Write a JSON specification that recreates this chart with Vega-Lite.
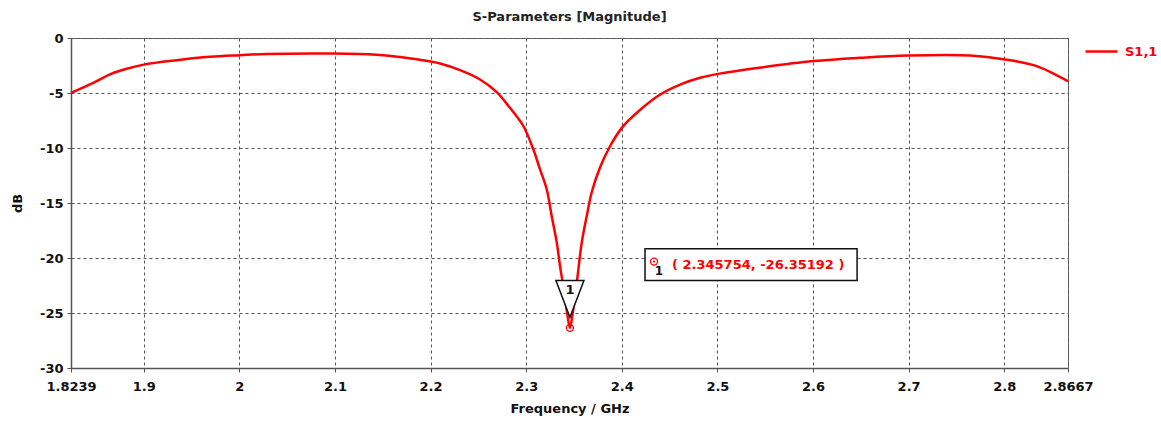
{
  "$schema": "https://vega.github.io/schema/vega-lite/v6.json",
  "autosize": "none",
  "width": 997,
  "height": 330,
  "padding": {"left": 71, "top": 38, "right": 93, "bottom": 53},
  "background": "white",
  "title": {"text": "S-Parameters [Magnitude]", "font": "DejaVu Sans", "fontSize": 13, "fontWeight": "bold", "color": "#222", "anchor": "middle", "offset": 8},
  "config": {
    "view": {"stroke": "#666", "strokeWidth": 1},
    "axis": {
      "labelFont": "DejaVu Sans", "labelFontSize": 13, "labelFontWeight": "bold", "labelColor": "#111",
      "titleFont": "DejaVu Sans", "titleFontSize": 13, "titleFontWeight": "bold", "titleColor": "#111",
      "domainColor": "#555", "domainWidth": 1.5, "tickColor": "#555", "tickSize": 4,
      "gridColor": "#555", "gridDash": [3, 3], "gridWidth": 1, "gridOpacity": 1
    }
  },
  "datasets": {
    "s11": [
      {"f": 1.8239, "db": -4.98, "s": "S1,1"},
      {"f": 1.8472, "db": -4.07, "s": "S1,1"},
      {"f": 1.8647, "db": -3.30, "s": "S1,1"},
      {"f": 1.8822, "db": -2.80, "s": "S1,1"},
      {"f": 1.9000, "db": -2.42, "s": "S1,1"},
      {"f": 1.9345, "db": -2.02, "s": "S1,1"},
      {"f": 1.9693, "db": -1.71, "s": "S1,1"},
      {"f": 2.0007, "db": -1.56, "s": "S1,1"},
      {"f": 2.0286, "db": -1.45, "s": "S1,1"},
      {"f": 2.0980, "db": -1.41, "s": "S1,1"},
      {"f": 2.1437, "db": -1.53, "s": "S1,1"},
      {"f": 2.1700, "db": -1.75, "s": "S1,1"},
      {"f": 2.2000, "db": -2.14, "s": "S1,1"},
      {"f": 2.2099, "db": -2.32, "s": "S1,1"},
      {"f": 2.2308, "db": -2.92, "s": "S1,1"},
      {"f": 2.2517, "db": -3.77, "s": "S1,1"},
      {"f": 2.2692, "db": -4.92, "s": "S1,1"},
      {"f": 2.2830, "db": -6.35, "s": "S1,1"},
      {"f": 2.2970, "db": -8.00, "s": "S1,1"},
      {"f": 2.3075, "db": -10.14, "s": "S1,1"},
      {"f": 2.3145, "db": -11.95, "s": "S1,1"},
      {"f": 2.3215, "db": -13.77, "s": "S1,1"},
      {"f": 2.3267, "db": -16.20, "s": "S1,1"},
      {"f": 2.3320, "db": -18.60, "s": "S1,1"},
      {"f": 2.3354, "db": -20.75, "s": "S1,1"},
      {"f": 2.3382, "db": -22.25, "s": "S1,1"},
      {"f": 2.3425, "db": -24.80, "s": "S1,1"},
      {"f": 2.345754, "db": -26.35192, "s": "S1,1"},
      {"f": 2.3490, "db": -24.80, "s": "S1,1"},
      {"f": 2.3529, "db": -22.25, "s": "S1,1"},
      {"f": 2.3581, "db": -18.60, "s": "S1,1"},
      {"f": 2.3633, "db": -16.20, "s": "S1,1"},
      {"f": 2.3686, "db": -14.00, "s": "S1,1"},
      {"f": 2.3773, "db": -11.75, "s": "S1,1"},
      {"f": 2.3877, "db": -9.84, "s": "S1,1"},
      {"f": 2.4000, "db": -8.17, "s": "S1,1"},
      {"f": 2.4157, "db": -6.80, "s": "S1,1"},
      {"f": 2.4401, "db": -5.14, "s": "S1,1"},
      {"f": 2.4610, "db": -4.23, "s": "S1,1"},
      {"f": 2.4819, "db": -3.62, "s": "S1,1"},
      {"f": 2.5004, "db": -3.26, "s": "S1,1"},
      {"f": 2.5480, "db": -2.65, "s": "S1,1"},
      {"f": 2.6004, "db": -2.10, "s": "S1,1"},
      {"f": 2.6492, "db": -1.80, "s": "S1,1"},
      {"f": 2.7002, "db": -1.59, "s": "S1,1"},
      {"f": 2.7643, "db": -1.59, "s": "S1,1"},
      {"f": 2.8009, "db": -1.95, "s": "S1,1"},
      {"f": 2.8340, "db": -2.56, "s": "S1,1"},
      {"f": 2.8667, "db": -3.93, "s": "S1,1"}
    ],
    "marker": [
      {"f": 2.345754, "db": -26.35192, "id": "1", "label": "( 2.345754, -26.35192 )"}
    ],
    "box": [
      {"fa": 2.4243, "fb": 2.6461, "top": -19.15, "bottom": -22.05, "mid": -20.6, "id": "1", "label": "( 2.345754, -26.35192 )"}
    ]
  },
  "layer": [
    {
      "data": {"name": "s11"},
      "mark": {"type": "line", "strokeWidth": 2.5, "interpolate": "catmull-rom"},
      "encoding": {
        "x": {"field": "f", "type": "quantitative", "scale": {"domain": [1.8239, 2.8667], "nice": false, "zero": false},
          "axis": {"title": "Frequency / GHz", "values": [1.8239, 1.9, 2, 2.1, 2.2, 2.3, 2.4, 2.5, 2.6, 2.7, 2.8, 2.8667], "labelExpr": "datum.value + ''", "labelPadding": 8, "titlePadding": 9, "labelFlush": false, "labelOverlap": false}},
        "y": {"field": "db", "type": "quantitative", "scale": {"domain": [-30, 0], "nice": false, "zero": false},
          "axis": {"title": "dB", "values": [-30, -25, -20, -15, -10, -5, 0], "labelExpr": "datum.value + ''", "labelPadding": 4, "titlePadding": 15}},
        "color": {"field": "s", "type": "nominal", "scale": {"range": ["#ff0000"]},
          "legend": {"title": null, "orient": "none", "legendX": 1013, "legendY": -4, "symbolType": "stroke", "symbolSize": 1024, "symbolStrokeWidth": 2.5, "labelFont": "DejaVu Sans", "labelFontSize": 13, "labelFontWeight": "bold", "labelColor": "#ff0000", "labelOffset": 6}}
      }
    },
    {
      "data": {"name": "box"},
      "mark": {"type": "rect", "fill": "white", "stroke": "#111", "strokeWidth": 1.5},
      "encoding": {
        "x": {"field": "fa", "type": "quantitative"},
        "x2": {"field": "fb"},
        "y": {"field": "top", "type": "quantitative"},
        "y2": {"field": "bottom"}
      }
    },
    {
      "data": {"name": "box"},
      "mark": {"type": "point", "shape": "circle", "size": 50, "stroke": "#ff0000", "strokeWidth": 1.3, "filled": false, "xOffset": 9, "yOffset": -3, "opacity": 1},
      "encoding": {
        "x": {"field": "fa", "type": "quantitative"},
        "y": {"field": "mid", "type": "quantitative"}
      }
    },
    {
      "data": {"name": "box"},
      "mark": {"type": "point", "shape": "circle", "size": 5, "fill": "#ff0000", "filled": true, "xOffset": 9, "yOffset": -3, "opacity": 1},
      "encoding": {
        "x": {"field": "fa", "type": "quantitative"},
        "y": {"field": "mid", "type": "quantitative"}
      }
    },
    {
      "data": {"name": "box"},
      "mark": {"type": "text", "font": "DejaVu Sans", "fontSize": 12, "fontWeight": "bold", "color": "#112", "xOffset": 14, "yOffset": 6, "align": "center", "baseline": "middle"},
      "encoding": {
        "x": {"field": "fa", "type": "quantitative"},
        "y": {"field": "mid", "type": "quantitative"},
        "text": {"field": "id"}
      }
    },
    {
      "data": {"name": "box"},
      "mark": {"type": "text", "font": "DejaVu Sans", "fontSize": 13, "fontWeight": "bold", "color": "#ff0000", "xOffset": 27, "align": "left", "baseline": "middle"},
      "encoding": {
        "x": {"field": "fa", "type": "quantitative"},
        "y": {"field": "mid", "type": "quantitative"},
        "text": {"field": "label"}
      }
    },
    {
      "data": {"name": "marker"},
      "mark": {"type": "point", "shape": "M-1,-1.32L1,-1.32L0,1.32Z", "size": 784, "fill": "white", "stroke": "#111", "strokeWidth": 1.5, "filled": true, "opacity": 1, "yOffset": -29},
      "encoding": {
        "x": {"field": "f", "type": "quantitative"},
        "y": {"field": "db", "type": "quantitative"}
      }
    },
    {
      "data": {"name": "marker"},
      "mark": {"type": "text", "font": "DejaVu Sans", "fontSize": 13, "fontWeight": "bold", "color": "#112", "yOffset": -38, "align": "center", "baseline": "middle"},
      "encoding": {
        "x": {"field": "f", "type": "quantitative"},
        "y": {"field": "db", "type": "quantitative"},
        "text": {"field": "id"}
      }
    },
    {
      "data": {"name": "marker"},
      "mark": {"type": "point", "shape": "circle", "size": 50, "stroke": "#ff0000", "strokeWidth": 1.3, "filled": false, "opacity": 1},
      "encoding": {
        "x": {"field": "f", "type": "quantitative"},
        "y": {"field": "db", "type": "quantitative"}
      }
    },
    {
      "data": {"name": "marker"},
      "mark": {"type": "point", "shape": "circle", "size": 5, "fill": "#ff0000", "filled": true, "opacity": 1},
      "encoding": {
        "x": {"field": "f", "type": "quantitative"},
        "y": {"field": "db", "type": "quantitative"}
      }
    }
  ]
}
